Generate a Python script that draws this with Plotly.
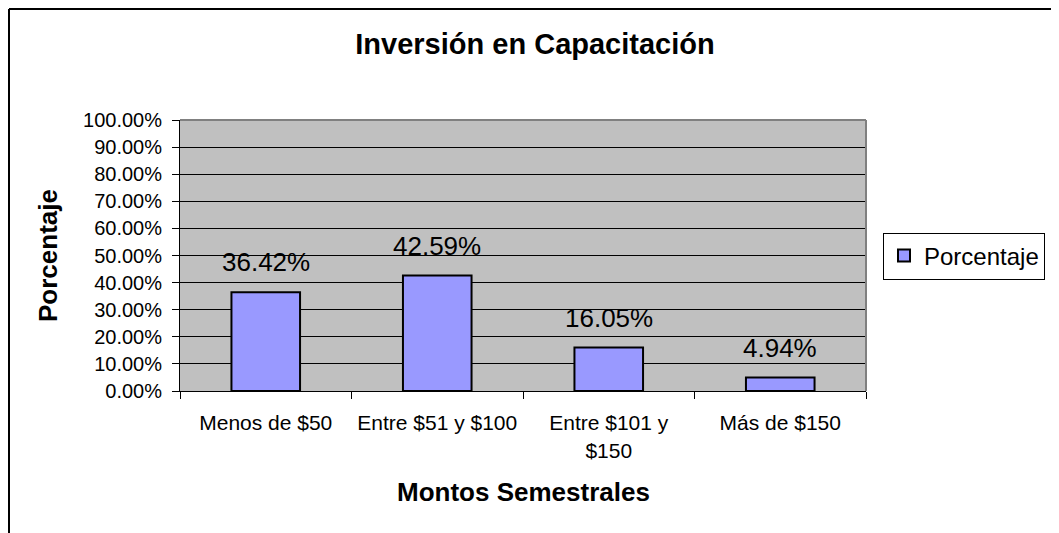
import plotly.graph_objects as go

categories = ["Menos de $50", "Entre $51 y $100", "Entre $101 y<br>$150", "Más de $150"]
values = [0.3642, 0.4259, 0.1605, 0.0494]
series_name = "Porcentaje"

FONT = "Liberation Sans"
W, H = 1059, 533
OFF = 8  # page body margin
# target positions in screenshot pixels
PX_L, PX_R, PX_T, PX_B = 180, 866, 120, 391
L, R, T, B = PX_L - OFF, W - (PX_R - OFF), PX_T - OFF, H - (PX_B - OFF)
pw, ph = W - L - R, H - T - B

def px_x(x):
    return (x - OFF - L) / pw

def px_y(y):
    return (H - B - (y - OFF)) / ph

fig = go.Figure()
fig.add_trace(go.Bar(
    x=categories, y=values, name=series_name,
    marker=dict(color="#9999FF", line=dict(color="black", width=2)),
    showlegend=True,
))

for c, v in zip(categories, values):
    fig.add_annotation(x=c, y=v, text=f"{v*100:.2f}%", showarrow=False,
                       xanchor="center", yanchor="bottom", yshift=13,
                       font=dict(size=26, family=FONT, color="black"))

fig.update_layout(
    width=W, height=H,
    margin=dict(l=L, r=R, t=T, b=B, autoexpand=False),
    paper_bgcolor="white", plot_bgcolor="#C0C0C0",
    font=dict(family=FONT, color="black"),
    bargap=0.6,
    title=dict(text="<b>Inversión en Capacitación</b>", x=(535 - OFF) / W, xref="container",
               y=1 - (44 - OFF) / H, yref="container", xanchor="center", yanchor="middle",
               font=dict(size=29, family=FONT, color="black")),
    showlegend=True,
    legend=dict(x=px_x(883), y=px_y(256), xanchor="left", yanchor="middle",
                bgcolor="white", bordercolor="black", borderwidth=1,
                font=dict(size=24, family=FONT, color="black"),
                itemwidth=30, tracegroupgap=0),
)

fig.update_yaxes(range=[0, 1], dtick=0.1, tickformat=".2%",
                 showgrid=True, gridcolor="black", gridwidth=1,
                 showline=True, linecolor="black", linewidth=1,
                 ticks="outside", ticklen=7, tickcolor="black",
                 ticklabelstandoff=6,
                 tickfont=dict(size=20, family=FONT, color="black"),
                 zeroline=False, fixedrange=True)
fig.update_xaxes(showline=True, linecolor="black", linewidth=1,
                 ticks="outside", ticklen=7, tickcolor="black", tickson="boundaries",
                 tickfont=dict(size=21, family=FONT, color="black"),
                 ticklabelstandoff=13, fixedrange=True)

# plot area gray border top/right
fig.add_shape(type="line", xref="paper", yref="paper", x0=0, x1=1, y0=1, y1=1,
              line=dict(color="#808080", width=2))
fig.add_shape(type="line", xref="paper", yref="paper", x0=1, x1=1, y0=0, y1=1,
              line=dict(color="#808080", width=2))
# outer chart border
fig.add_shape(type="line", xref="paper", yref="paper", x0=px_x(9), x1=px_x(1075),
              y0=px_y(9), y1=px_y(9), line=dict(color="black", width=2))
fig.add_shape(type="line", xref="paper", yref="paper", x0=px_x(9), x1=px_x(9),
              y0=px_y(9), y1=px_y(560), line=dict(color="black", width=2))

fig.add_annotation(text="<b>Porcentaje</b>", xref="paper", yref="paper",
                   x=px_x(48), y=px_y(256), textangle=-90, showarrow=False,
                   font=dict(size=26, family=FONT, color="black"),
                   xanchor="center", yanchor="middle")
fig.add_annotation(text="<b>Montos Semestrales</b>", xref="paper", yref="paper",
                   x=px_x(523), y=px_y(492), showarrow=False,
                   font=dict(size=26, family=FONT, color="black"),
                   xanchor="center", yanchor="middle")

fig.write_html("out.html")
